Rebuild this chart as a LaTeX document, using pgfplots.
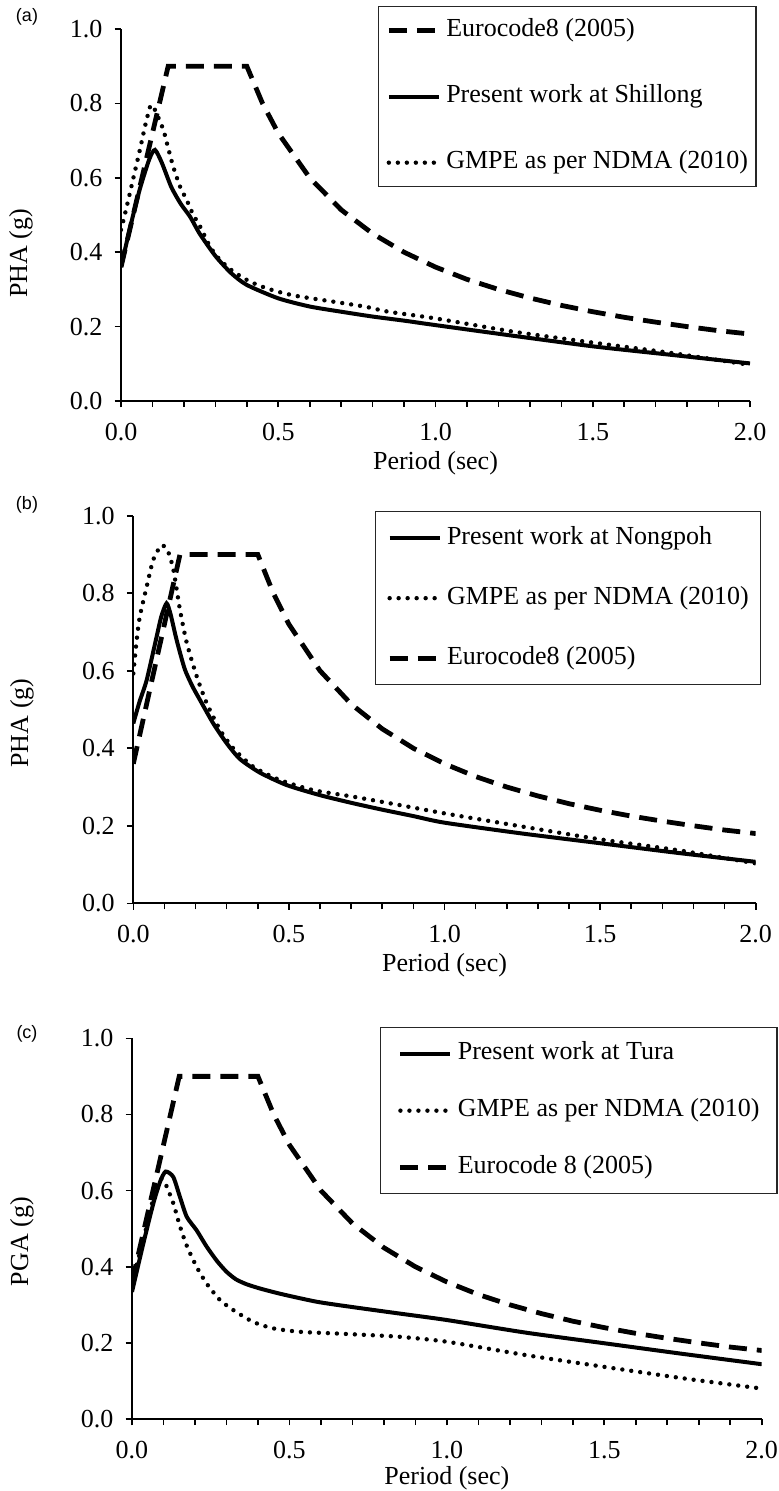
\documentclass[border=0pt]{standalone}
\usepackage{fontspec}
\setmainfont{Liberation Serif}
\newfontfamily\panelsans{Liberation Sans}
\usepackage{pgfplots}
\pgfplotsset{compat=1.18}

\pgfplotsset{
  panel/.style={
    scale only axis,
    xmin=0, xmax=2, ymin=0, ymax=1,
    axis lines=left,
    axis line style={-, line width=1pt, black},
    tick align=outside,
    tick style={line width=0.8pt, black},
    major tick length=3.2pt, minor tick length=3pt,
    xtick={0,0.5,1,1.5,2},
    minor x tick num=4,
    ytick={0,0.2,0.4,0.6,0.8,1},
    /pgf/number format/fixed,
    /pgf/number format/fixed zerofill,
    /pgf/number format/precision=1,
    /pgf/number format/assume math mode=true,
    tick label style={font=\fontsize{13}{13}\selectfont},
    xticklabel shift=4.2pt,
    yticklabel shift=2.6pt,
    label style={font=\fontsize{13}{13}\selectfont},
    legend cell align=left,
    legend image code/.code={\draw[##1] (0pt,0pt) -- (25pt,0pt);},
    legend style={draw=black!85, line width=0.65pt, fill=white,
      font=\fontsize{13}{13}\selectfont,
      nodes={inner sep=0pt, text height=9pt, text depth=3pt},
      column sep=2.5pt, anchor=north west},
  },
  solidline/.style={black, line width=2pt},
  dashline/.style={black, line width=2.4pt, dash pattern=on 9pt off 5pt},
  dotline/.style={black, line width=2.2pt, line cap=round, dash pattern=on 0pt off 4.5pt},
}

\begin{document}
\begin{tikzpicture}
\path[use as bounding box] (0pt,0pt) rectangle (389.5pt,-745.5pt);

% ---------------- (a) ----------------
\begin{axis}[panel,
  at={(60.5pt,-200.5pt)}, anchor=south west,
  width=314.5pt, height=186pt,
  xlabel={Period (sec)}, ylabel={PHA (g)},
  xlabel style={at={(axis description cs:0.5,-0.1667)}, anchor=center},
  ylabel style={at={(axis description cs:-0.159,0.397)}, anchor=center},
  legend style={at={(rel axis cs:0.4086,1.0618)}, row sep=21pt, inner ysep=6pt, inner xsep=3.9pt},
]
\addplot[dashline] coordinates {
(0,0.36) (0.15,0.9) (0.4,0.9) (0.45,0.8) (0.5,0.72) (0.6,0.6) (0.7,0.514) (0.8,0.45)
(0.9,0.4) (1.0,0.36) (1.1,0.327) (1.2,0.3) (1.3,0.277) (1.4,0.257) (1.5,0.24)
(1.6,0.225) (1.7,0.212) (1.8,0.2) (1.9,0.189) (2.0,0.18)};
\addlegendentry{Eurocode8 (2005)}
\addplot[solidline, smooth, tension=0.4] coordinates {
(0,0.36) (0.03,0.47) (0.06,0.57) (0.09,0.65) (0.108,0.675) (0.13,0.64) (0.16,0.575)
(0.19,0.53) (0.22,0.495) (0.25,0.45) (0.3,0.39) (0.35,0.344) (0.4,0.312) (0.5,0.276)
(0.6,0.254) (0.7,0.24) (0.8,0.227) (0.9,0.216) (1.0,0.204) (1.25,0.175) (1.5,0.147)
(1.75,0.124) (2.0,0.101)};
\addlegendentry{Present work at Shillong}
\addplot[dotline, smooth, tension=0.4] coordinates {
(0,0.46) (0.013,0.504) (0.034,0.58) (0.06,0.675) (0.076,0.737) (0.092,0.79) (0.1,0.795)
(0.113,0.773) (0.135,0.728) (0.15,0.68) (0.166,0.63) (0.188,0.576) (0.209,0.54)
(0.23,0.50) (0.251,0.47) (0.283,0.415) (0.315,0.379) (0.357,0.348) (0.41,0.321)
(0.463,0.303) (0.516,0.29) (0.567,0.281) (0.675,0.267) (0.78,0.253) (0.85,0.24)
(1.0,0.222) (1.25,0.186) (1.5,0.157) (1.75,0.129) (2.0,0.097)};
\addlegendentry{GMPE as per NDMA (2010)}
\end{axis}

% ---------------- (b) ----------------
\begin{axis}[panel,
  at={(66.65pt,-451.65pt)}, anchor=south west,
  width=311.2pt, height=193.8pt,
  xlabel={Period (sec)}, ylabel={PHA (g)},
  xlabel style={at={(axis description cs:0.5,-0.159)}, anchor=center},
  ylabel style={at={(axis description cs:-0.179,0.465)}, anchor=center},
  legend style={at={(rel axis cs:0.3883,1.0121)}, row sep=18pt, inner ysep=7.25pt, inner xsep=5.8pt},
]
\addplot[solidline, smooth, tension=0.4] coordinates {
(0,0.464) (0.02,0.52) (0.043,0.576) (0.075,0.688) (0.09,0.74) (0.107,0.774) (0.12,0.745)
(0.139,0.68) (0.165,0.605) (0.19,0.56) (0.214,0.525) (0.257,0.464) (0.30,0.413) (0.343,0.372)
(0.407,0.337) (0.493,0.305) (0.6,0.279) (0.707,0.258) (0.803,0.241) (0.9,0.225)
(1.0,0.208) (1.25,0.18) (1.5,0.155) (1.75,0.13) (2.0,0.107)};
\addlegendentry{Present work at Nongpoh}
\addplot[dotline, smooth, tension=0.4] coordinates {
(0,0.593) (0.011,0.68) (0.021,0.74) (0.043,0.817) (0.064,0.886) (0.091,0.924)
(0.112,0.907) (0.129,0.86) (0.15,0.757) (0.172,0.671) (0.204,0.585) (0.236,0.516)
(0.279,0.447) (0.321,0.40) (0.386,0.352) (0.471,0.318) (0.578,0.292) (0.707,0.275)
(0.852,0.254) (1.0,0.232) (1.25,0.198) (1.5,0.165) (1.75,0.137) (2.0,0.103)};
\addlegendentry{GMPE as per NDMA (2010)}
\addplot[dashline] coordinates {
(0,0.36) (0.15,0.9) (0.4,0.9) (0.45,0.8) (0.5,0.72) (0.6,0.6) (0.7,0.514) (0.8,0.45)
(0.9,0.4) (1.0,0.36) (1.1,0.327) (1.2,0.3) (1.3,0.277) (1.4,0.257) (1.5,0.24)
(1.6,0.225) (1.7,0.212) (1.8,0.2) (1.9,0.189) (2.0,0.18)};
\addlegendentry{Eurocode8 (2005)}
\end{axis}

% ---------------- (c) ----------------
\begin{axis}[panel,
  at={(66pt,-709.5pt)}, anchor=south west,
  width=314.85pt, height=190.35pt,
  xlabel={Period (sec)}, ylabel={PGA (g)},
  xlabel style={at={(axis description cs:0.5,-0.155)}, anchor=center},
  ylabel style={at={(axis description cs:-0.175,0.466)}, anchor=center},
  legend style={at={(rel axis cs:0.3938,1.0297)}, row sep=16.5pt, inner ysep=7pt, inner xsep=8.7pt},
]
\addplot[solidline, smooth, tension=0.4] coordinates {
(0,0.334) (0.036,0.461) (0.068,0.567) (0.09,0.625) (0.107,0.65) (0.131,0.636) (0.152,0.584)
(0.174,0.531) (0.205,0.496) (0.237,0.453) (0.27,0.415) (0.30,0.387) (0.33,0.367)
(0.364,0.354) (0.41,0.342) (0.481,0.327) (0.587,0.308) (0.692,0.295) (0.841,0.278)
(1.0,0.26) (1.25,0.227) (1.5,0.199) (1.75,0.171) (2.0,0.144)};
\addlegendentry{Present work at Tura}
\addplot[dotline, smooth, tension=0.4] coordinates {
(0,0.36) (0.036,0.47) (0.068,0.58) (0.09,0.63) (0.105,0.62) (0.131,0.567) (0.152,0.507)
(0.174,0.455) (0.205,0.40) (0.237,0.356) (0.279,0.313) (0.322,0.286) (0.385,0.255)
(0.449,0.238) (0.534,0.229) (0.64,0.225) (0.74,0.221) (0.85,0.216) (1.0,0.203)
(1.25,0.168) (1.5,0.137) (1.75,0.107) (2.0,0.08)};
\addlegendentry{GMPE as per NDMA (2010)}
\addplot[dashline] coordinates {
(0,0.36) (0.15,0.9) (0.4,0.9) (0.45,0.8) (0.5,0.72) (0.6,0.6) (0.7,0.514) (0.8,0.45)
(0.9,0.4) (1.0,0.36) (1.1,0.327) (1.2,0.3) (1.3,0.277) (1.4,0.257) (1.5,0.24)
(1.6,0.225) (1.7,0.212) (1.8,0.2) (1.9,0.189) (2.0,0.18)};
\addlegendentry{Eurocode 8 (2005)}
\end{axis}

\node[font=\panelsans\fontsize{9}{9}\selectfont] at (13.5pt,-8.5pt) {(a)};
\node[font=\panelsans\fontsize{9}{9}\selectfont] at (13.5pt,-252.5pt) {(b)};
\node[font=\panelsans\fontsize{9}{9}\selectfont] at (13.5pt,-517pt) {(c)};
\end{tikzpicture}
\end{document}
